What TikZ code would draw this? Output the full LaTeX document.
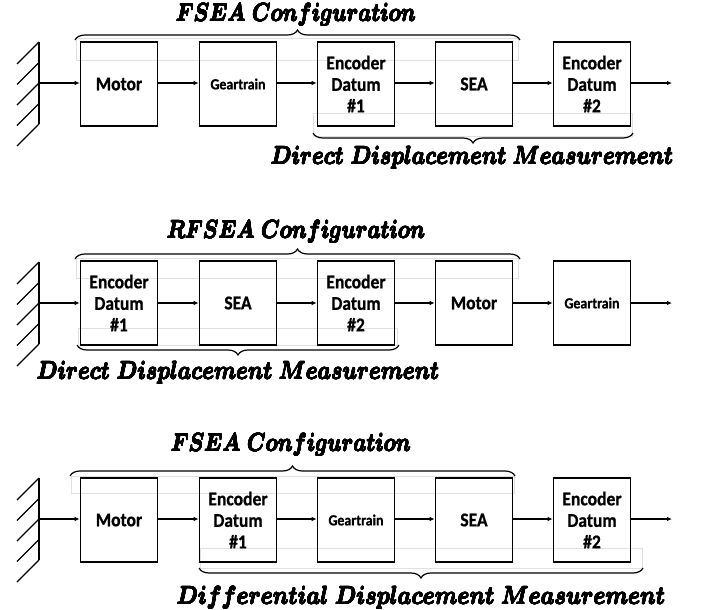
\documentclass[tikz,border=0pt]{standalone}
\usepackage{fontspec}
\usepackage{graphicx}
\usepackage{contour}
\contournumber{16}
\newfontfamily\boxfont[BoldFeatures={FakeBold=0.8}]{Carlito}
\newcommand{\sq}[1]{\scalebox{0.9}[1]{#1}}
\newcommand{\ttltext}[2]{\scalebox{#1}[1]{\contourlength{0.35pt}\contour{black}{$#2$}}}
\usetikzlibrary{arrows.meta,decorations.pathreplacing}
\begin{document}
\begin{tikzpicture}[x=1pt,y=-1pt,
  blk/.style={draw,line width=1.7pt,minimum width=77pt,minimum height=84pt,inner sep=0pt,align=center,font=\boxfont\bfseries\fontsize{19.5}{21.5}\selectfont},
  small/.style={font=\boxfont\bfseries\fontsize{15.5}{18}\selectfont},
  flow/.style={line width=1.3pt,-{Latex[length=5pt,width=4.5pt]}},
  wall/.style={line width=1.7pt},
  hatch/.style={line width=1.4pt},
  brc/.style={decorate,decoration={brace,amplitude=10pt},line width=1.2pt},
  ghost/.style={draw=black!12,line width=0.6pt},
  ttl/.style={font=\boldmath\fontsize{26}{28}\selectfont,inner sep=0pt}]
\useasboundingbox (0,0) rectangle (704,610);

% ---------- Panel 1 ----------
\draw[ghost] (76,38) rectangle (518,60);
\draw[ghost] (313,113) rectangle (632,136);
\draw[wall] (39,42) -- (39,124);
\foreach \yy in {42,62.5,83,103.5,124} \draw[hatch] (39,\yy) -- ++(-22,22);
\coordinate (w1) at (39,83);
\node[blk] (m1) at (119,84) {\sq{Motor}};
\node[blk,small] (g1) at (238,84) {\sq{Geartrain}};
\node[blk] (ea1) at (356,84) {\sq{Encoder}\\\sq{Datum}\\\sq{\#1}};
\node[blk] (s1) at (474,84) {\sq{SEA}};
\node[blk] (eb1) at (592,84) {\sq{Encoder}\\\sq{Datum}\\\sq{\#2}};
\coordinate (o1) at (672,83);
\draw[flow] (w1) -- (m1.west|-w1);
\draw[flow] (m1.east|-w1) -- (g1.west|-w1);
\draw[flow] (g1.east|-w1) -- (ea1.west|-w1);
\draw[flow] (ea1.east|-w1) -- (s1.west|-w1);
\draw[flow] (s1.east|-w1) -- (eb1.west|-w1);
\draw[flow] (eb1.east|-w1) -- (o1);
\coordinate (t1a) at (75,40); \coordinate (t1b) at (520,40);
\draw[brc] (t1a) -- (t1b);
\node[ttl] (T1) at (296,15) {\ttltext{0.84}{FSEA\ Configuration}};
\coordinate (b1a) at (633,133); \coordinate (b1b) at (313,133);
\draw[brc] (b1a) -- (b1b);
\node[ttl] (B1) at (472,158) {\ttltext{0.86}{Direct\ Displacement\ Measurement}};

% ---------- Panel 2 ----------
\draw[ghost] (76,258) rectangle (518,278);
\draw[ghost] (78,328) rectangle (397,345);
\draw[wall] (39,262) -- (39,344);
\foreach \yy in {262,282.5,303,323.5,344} \draw[hatch] (39,\yy) -- ++(-22,22);
\coordinate (w2) at (39,303);
\node[blk] (ea2) at (119,303) {\sq{Encoder}\\\sq{Datum}\\\sq{\#1}};
\node[blk] (s2) at (238,303) {\sq{SEA}};
\node[blk] (eb2) at (356,303) {\sq{Encoder}\\\sq{Datum}\\\sq{\#2}};
\node[blk] (m2) at (474,303) {\sq{Motor}};
\node[blk,small] (g2) at (592,303) {\sq{Geartrain}};
\coordinate (o2) at (672,303);
\draw[flow] (w2) -- (ea2.west|-w2);
\draw[flow] (ea2.east|-w2) -- (s2.west|-w2);
\draw[flow] (s2.east|-w2) -- (eb2.west|-w2);
\draw[flow] (eb2.east|-w2) -- (m2.west|-w2);
\draw[flow] (m2.east|-w2) -- (g2.west|-w2);
\draw[flow] (g2.east|-w2) -- (o2);
\coordinate (t2a) at (75,259); \coordinate (t2b) at (520,259);
\draw[brc] (t2a) -- (t2b);
\node[ttl] (T2) at (296,232) {\ttltext{0.84}{RFSEA\ Configuration}};
\coordinate (b2a) at (399,345); \coordinate (b2b) at (77,345);
\draw[brc] (b2a) -- (b2b);
\node[ttl] (B2) at (238,373) {\ttltext{0.86}{Direct\ Displacement\ Measurement}};

% ---------- Panel 3 ----------
\draw[ghost] (71,476) rectangle (514,493);
\draw[ghost] (200,548) rectangle (642,568);
\draw[wall] (39,478) -- (39,560);
\foreach \yy in {478,498.5,519,539.5,560} \draw[hatch] (39,\yy) -- ++(-22,22);
\coordinate (w3) at (39,519);
\node[blk] (m3) at (119,520) {\sq{Motor}};
\node[blk] (ea3) at (238,520) {\sq{Encoder}\\\sq{Datum}\\\sq{\#1}};
\node[blk,small] (g3) at (356,520) {\sq{Geartrain}};
\node[blk] (s3) at (474,520) {\sq{SEA}};
\node[blk] (eb3) at (592,520) {\sq{Encoder}\\\sq{Datum}\\\sq{\#2}};
\coordinate (o3) at (672,519);
\draw[flow] (w3) -- (m3.west|-w3);
\draw[flow] (m3.east|-w3) -- (ea3.west|-w3);
\draw[flow] (ea3.east|-w3) -- (g3.west|-w3);
\draw[flow] (g3.east|-w3) -- (s3.west|-w3);
\draw[flow] (s3.east|-w3) -- (eb3.west|-w3);
\draw[flow] (eb3.east|-w3) -- (o3);
\coordinate (t3a) at (70,476); \coordinate (t3b) at (515,476);
\draw[brc] (t3a) -- (t3b);
\node[ttl] (T3) at (291,445) {\ttltext{0.84}{FSEA\ Configuration}};
\coordinate (b3a) at (643,568); \coordinate (b3b) at (199,568);
\draw[brc] (b3a) -- (b3b);
\node[ttl] (B3) at (421,598) {\ttltext{0.88}{Differential\ Displacement\ Measurement}};
\end{tikzpicture}
\end{document}
